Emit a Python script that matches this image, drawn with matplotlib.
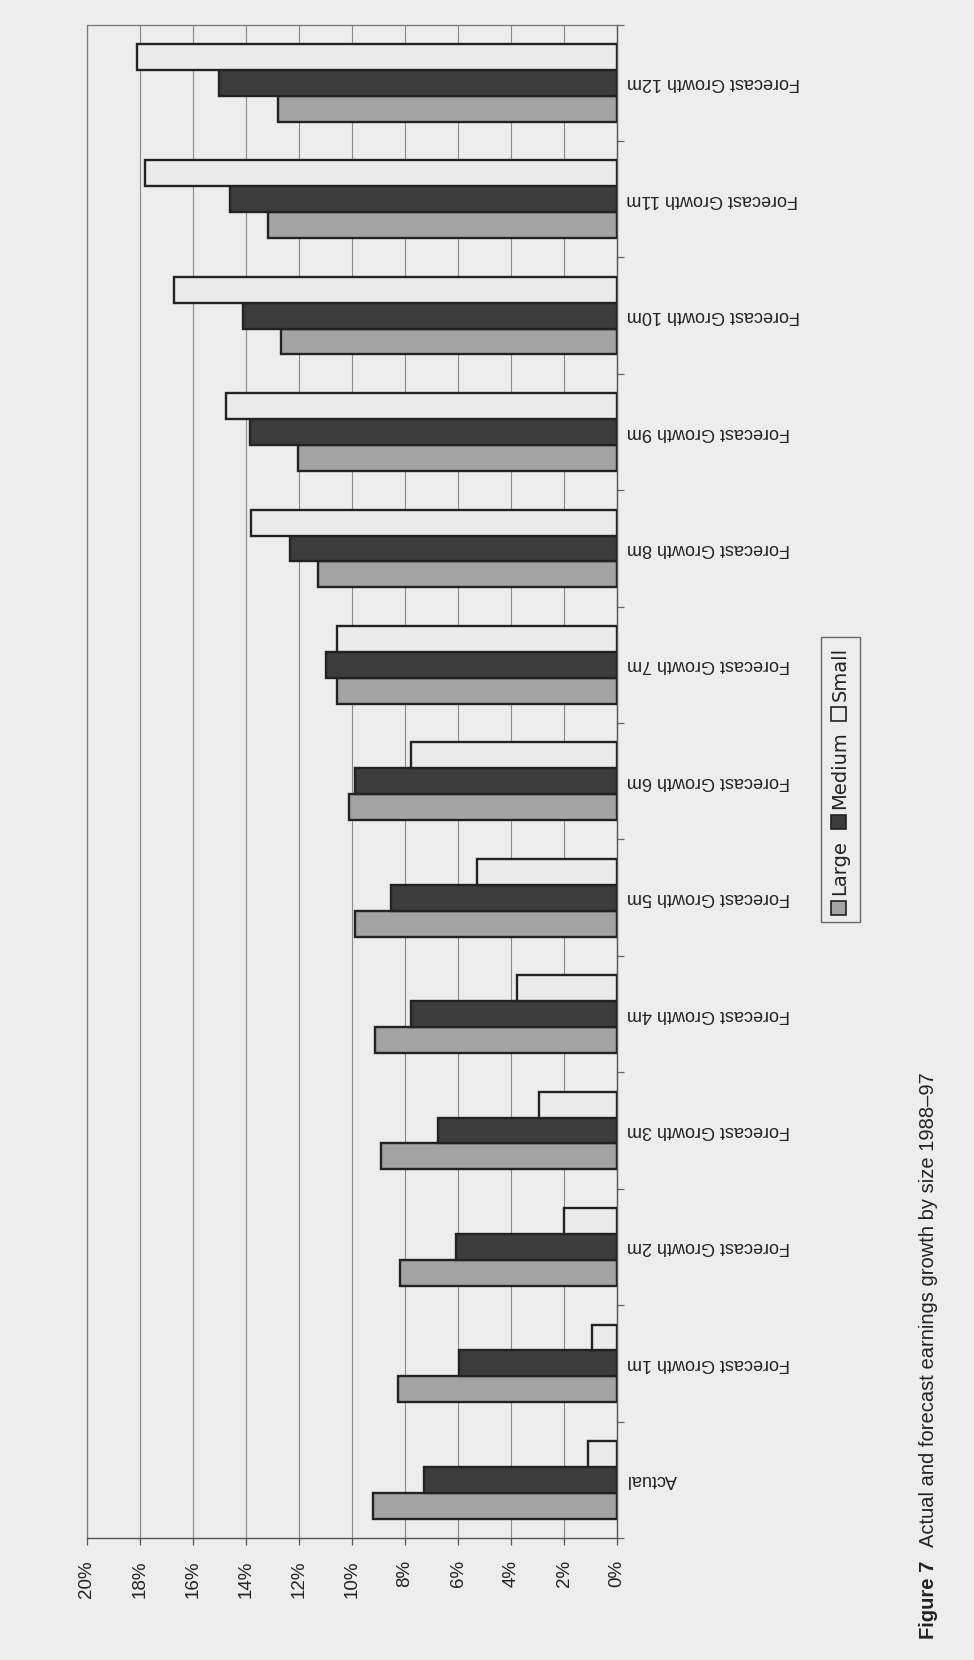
import numpy as np
import matplotlib
matplotlib.use("Agg")
import matplotlib.pyplot as plt
from matplotlib.patches import Rectangle

# Earnings growth (%) by company size, actual then forecast horizons
categories = ["Actual"] + [f"Forecast Growth {m}m" for m in range(1, 13)]
large = [9.2, 8.25, 8.19, 8.9, 9.15, 9.88, 10.11, 10.56, 11.29, 12.05, 12.67, 13.17, 12.79]
medium = [7.3, 5.95, 6.08, 6.76, 7.78, 8.54, 9.89, 11.0, 12.34, 13.85, 14.1, 14.6, 15.02]
small = [1.11, 0.94, 2.0, 2.96, 3.78, 5.3, 7.79, 10.56, 13.81, 14.75, 16.7, 17.81, 18.12]
value_ticks = list(range(0, 21, 2))

series = [("Large", large, "#a3a3a3"),
          ("Medium", medium, "#3c3c3c"),
          ("Small", small, "#ebebeb")]

bg = "#ededed"
ink = "#222222"
plt.rcParams["font.family"] = ["Liberation Sans", "DejaVu Sans"]

fig = plt.figure(figsize=(9.74, 16.6), dpi=100, facecolor=bg)
ax = fig.add_axes([0.0893, 0.0735, 0.5442, 0.9117], facecolor=bg)

# page is printed turned on its side: bars run right-to-left from 0%
pos = np.arange(len(categories))
w = 1 / 4.5
for i, (name, vals, col) in enumerate(series):
    ax.barh(pos + (i - 1) * w, vals, height=w, color=col,
            edgecolor=ink, linewidth=1.7, zorder=3)

ax.set_xlim(20, 0)
ax.set_ylim(-0.5, len(categories) - 0.5)

# value axis
ax.set_xticks(value_ticks)
ax.set_xticklabels([f"{v}%" for v in value_ticks], rotation=90, fontsize=13.5, color=ink)
ax.tick_params(axis="x", length=5, width=0.9, color="#555555", pad=11)
ax.grid(axis="x", color="#8a8a8a", linewidth=0.8, zorder=1)

# category axis on the right, labels upside down
ax.yaxis.tick_right()
ax.set_yticks(pos)
ax.set_yticklabels(categories, rotation=180, fontsize=13, color=ink)
for lbl in ax.get_yticklabels():
    lbl.set_va("center")
ax.tick_params(axis="y", which="major", length=0, pad=7)
ax.set_yticks(np.arange(len(categories) + 1) - 0.5, minor=True)
ax.tick_params(axis="y", which="minor", length=5, width=0.9, color="#666666",
               right=True, left=False, direction="out")

for side in ["left", "top"]:
    ax.spines[side].set_color("#777777")
    ax.spines[side].set_linewidth(0.9)
for side in ["right", "bottom"]:
    ax.spines[side].set_color("#555555")
    ax.spines[side].set_linewidth(1.0)

# legend box, drawn sideways
W, H = 974, 1660
lg = fig.add_axes([0, 0, 1, 1], facecolor="none")
lg.set_xlim(0, W)
lg.set_ylim(H, 0)
lg.axis("off")
lg.add_patch(Rectangle((821, 637), 39, 285, facecolor="none", edgecolor="#666666", linewidth=1.0))
entry_y = [915, 829, 721]
for (name, vals, col), y0 in zip(series, entry_y):
    lg.add_patch(Rectangle((831, y0 - 14), 15, 14, facecolor=col, edgecolor=ink, linewidth=1.2))
    lg.text(840, y0 - 20, name, rotation=90, ha="center", va="bottom",
            fontsize=14, family="DejaVu Sans", color=ink)

# caption
t1 = lg.text(929, 1639, "Figure 7", rotation=90, ha="center", va="bottom",
             fontsize=14.5, fontweight="bold", color=ink)
fig.canvas.draw()
bb = t1.get_window_extent().transformed(lg.transData.inverted())
top = min(bb.y0, bb.y1)
lg.text(929, top - 14, "Actual and forecast earnings growth by size 1988\u201397",
        rotation=90, ha="center", va="bottom", fontsize=14.5, color=ink)

fig.savefig("out.png", dpi=100, facecolor=bg)
